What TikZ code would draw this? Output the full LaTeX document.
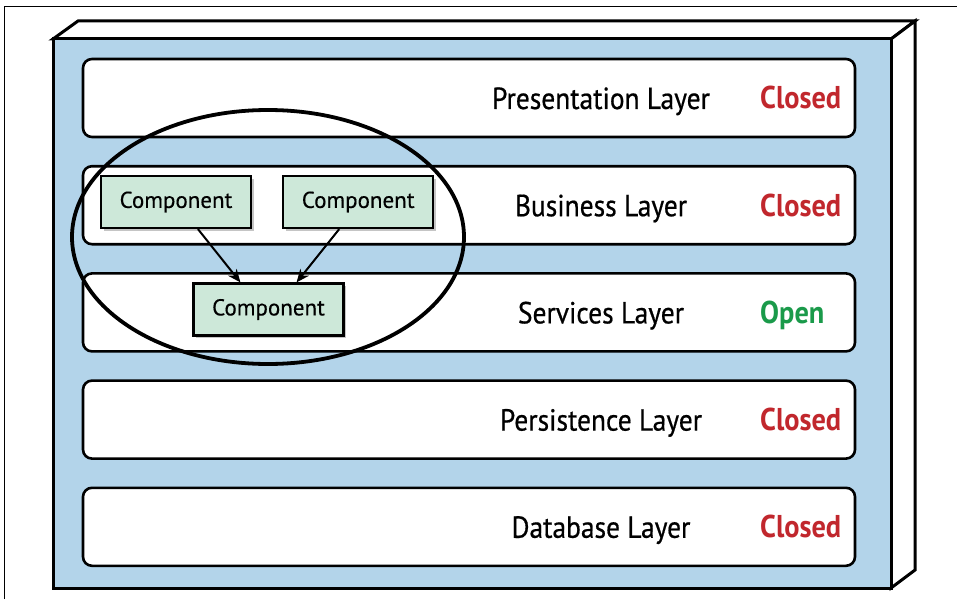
\documentclass[tikz,border=0pt]{standalone}
\usepackage{fontspec}
\setmainfont{PT Sans}[FakeStretch=0.9]
\newfontfamily\namefont{PT Sans}[FakeStretch=0.9,FakeBold=0.6]
\newfontfamily\compfont{PT Sans}[FakeBold=0.3]
\usetikzlibrary{positioning,arrows.meta,shadows}
\definecolor{boxblue}{HTML}{B3D4EA}
\definecolor{compgreen}{HTML}{CDE8D9}
\definecolor{closedred}{HTML}{C1272D}
\definecolor{opengreen}{HTML}{1A9A4A}

\begin{document}
\begin{tikzpicture}[x=1pt,y=-1pt,
    layer/.style={draw,line width=2.6pt,rounded corners=9pt,fill=white,
      minimum width=772pt,minimum height=78pt},
    layername/.style={font=\namefont\fontsize{30.5}{32}\selectfont,text height=22pt,text depth=0pt},
    closed/.style={anchor=west,font=\fontsize{31.5}{32}\selectfont\bfseries,
      text=closedred,text height=22pt,text depth=0pt,inner xsep=0pt},
    open/.style={closed,text=opengreen},
    comp/.style={draw,line width=2.2pt,fill=compgreen,minimum width=150pt,
      minimum height=52pt,font=\compfont\fontsize{23}{24}\selectfont,
      drop shadow={shadow xshift=2.5pt,shadow yshift=-2.5pt,opacity=0.45}},
    link/.style={-{Stealth[length=13pt,width=11pt]},line width=2pt}]
  \useasboundingbox (0,0) rectangle (957,599);
  % page frame
  \draw[line width=0.9pt] (4,599) -- (4,6) -- (957,6);
  % the box
  \draw[line width=3pt,fill=white,line join=miter] (53,39) -- (78,21) -- (915,21) -- (891,39) -- cycle;
  \draw[line width=3pt,fill=white,line join=miter] (891,39) -- (915,21) -- (915,570) -- (891,588) -- cycle;
  \draw[line width=3pt,fill=boxblue] (53,39) rectangle (891,588);

  % layers
  \node[layer] (pres) at (469,98) {};
  \node[layer,below=26.6pt of pres] (bus) {};
  \node[layer,below=26.6pt of bus] (serv) {};
  \node[layer,below=26.6pt of serv] (pers) {};
  \node[layer,below=26.6pt of pers] (db) {};

  \node[layername] (presname) at ([xshift=132pt]pres.center) {Presentation Layer};
  \node[layername] (busname) at ([xshift=132pt]bus.center) {Business Layer};
  \node[layername] (servname) at ([xshift=132pt]serv.center) {Services Layer};
  \node[layername] (persname) at ([xshift=132pt]pers.center) {Persistence Layer};
  \node[layername] (dbname) at ([xshift=132pt]db.center) {Database Layer};

  \node[closed] (presstate) at ([xshift=291pt]pres.center) {Closed};
  \node[closed] (busstate) at ([xshift=291pt]bus.center) {Closed};
  \node[open] (servstate) at ([xshift=291pt]serv.center) {Open};
  \node[closed] (persstate) at ([xshift=291pt]pers.center) {Closed};
  \node[closed] (dbstate) at ([xshift=291pt]db.center) {Closed};

  % open layer grouping
  \draw[line width=3.8pt] (268,237) ellipse [x radius=196, y radius=127];

  % components
  \node[comp] (comp1) at (176,202) {Component};
  \node[comp,right=30pt of comp1] (comp2) {Component};
  \node[comp] (comp3) at (268.5,309.5) {Component};
  \draw[link] (comp1.-51) -- (comp3.136);
  \draw[link] (comp2.-125) -- (comp3.44);
\end{tikzpicture}
\end{document}
